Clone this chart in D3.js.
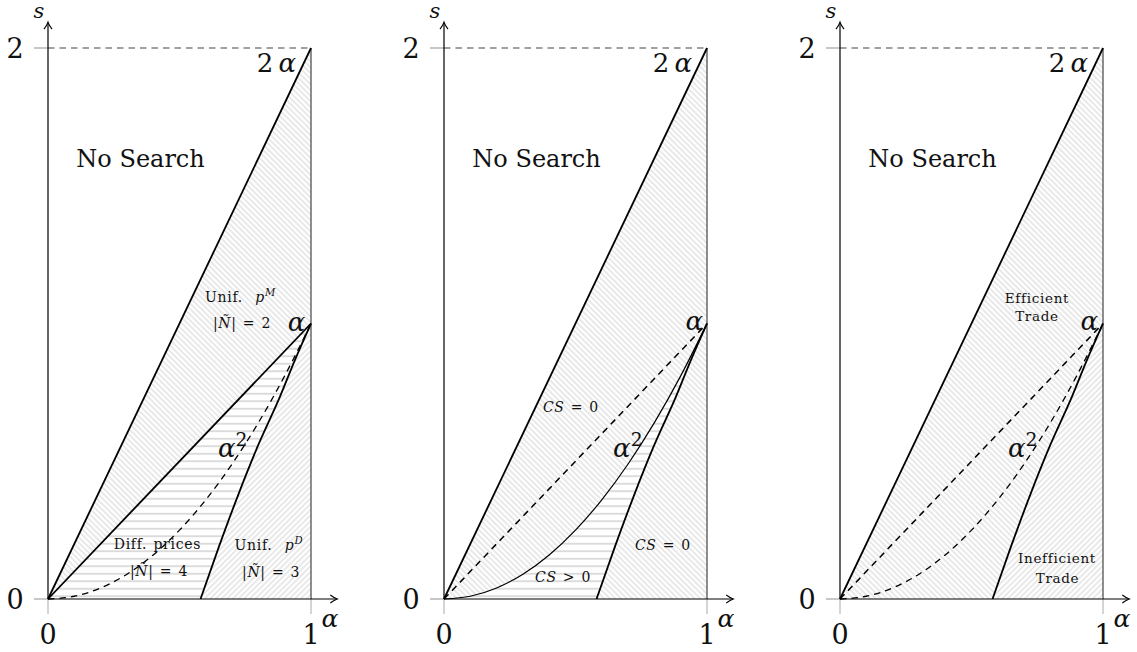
<!DOCTYPE html>
<html>
<head>
<meta charset="utf-8">
<script src="https://cdn.jsdelivr.net/npm/d3@7"></script>
<style>
  body { margin: 0; background: #fff; }
  text { font-family: "DejaVu Serif", serif; fill: #111; }
</style>
</head>
<body>
<div id="chart"></div>
<script>
// values (alpha, s)
var alphaTicks = [0, 1];
var sTicks = [0, 2];
var lineTwoAlpha = [[0, 0], [1, 2]];
var lineAlpha = [[0, 0], [1, 1]];
var curveAlphaSq = [[0, 0], [0.1, 0.01], [0.2, 0.04], [0.3, 0.09], [0.4, 0.16], [0.5, 0.25],
  [0.6, 0.36], [0.7, 0.49], [0.8, 0.64], [0.9, 0.81], [1, 1]];
var curveLower = [[0.58, 0], [0.65, 0.19], [0.72, 0.37], [0.80, 0.56], [0.88, 0.73], [0.94, 0.87], [1, 1]];

var width = 1137, height = 652;
var panelOffsets = [48, 444, 840];

var svg = d3.select("#chart").append("svg")
  .attr("width", width)
  .attr("height", height);

var x = d3.scaleLinear().domain([0, 1]).range([0, 263]);
var y = d3.scaleLinear().domain([0, 2]).range([599, 48]);

var defs = svg.append("defs");
function hatch(id, angle, size, color) {
  var p = defs.append("pattern")
    .attr("id", id)
    .attr("patternUnits", "userSpaceOnUse")
    .attr("width", 10)
    .attr("height", size)
    .attr("patternTransform", "rotate(" + angle + ")");
  p.append("line")
    .attr("x1", 0).attr("x2", 10)
    .attr("y1", size / 2).attr("y2", size / 2)
    .attr("stroke", color)
    .attr("stroke-width", 0.8);
}
hatch("nw", 45, 4, "#c6c6c6");
hatch("ne", -45, 4, "#c6c6c6");
hatch("hz", 0, 7.5, "#a6a6a6");

var curveLine = d3.line()
  .x(function (d) { return x(d[0]) })
  .y(function (d) { return y(d[1]) })
  .curve(d3.curveMonotoneX);

function rev(a) { return a.slice().reverse() }

function region(pieces) {
  var s = "";
  pieces.forEach(function (p, i) {
    var seg;
    if (p.length === 1) {
      seg = "M" + x(p[0][0]) + "," + y(p[0][1]);
    } else {
      seg = curveLine(p);
    }
    s += i ? seg.replace(/^M/, "L") : seg;
  });
  return s + "Z";
}

var panels = [
  {
    regions: [
      { fill: "nw", pieces: [lineTwoAlpha, [[1, 1]], rev(lineAlpha)] },
      { fill: "hz", pieces: [lineAlpha, rev(curveLower)] },
      { fill: "ne", pieces: [curveLower, [[1, 0]]] }
    ],
    lines: [
      { pts: lineTwoAlpha, w: 1.8 },
      { pts: lineAlpha, w: 1.8 },
      { pts: curveLower, w: 1.8 },
      { pts: curveAlphaSq, w: 1.3, dash: "6.5,5" }
    ],
    labels: [
      { a: 0.943, s: 1.913, anchor: "end", size: 26, parts: [["2\u2009", "r"], ["α", "i"]] },
      { a: 0.352, s: 1.568, anchor: "middle", size: 24, parts: [["No Search", "r"]] },
      { a: 0.978, s: 0.973, anchor: "end", size: 26, parts: [["α", "i"]] },
      { a: 0.646, s: 0.515, anchor: "start", size: 26, parts: [["α", "i"], ["2", "sup"]] },
      { a: 0.597, s: 1.078, anchor: "start", size: 14, small: true, parts: [["Unif.  ", "r"], ["p", "i"], ["M", "supi"]] },
      { a: 0.627, s: 0.984, anchor: "start", size: 14, small: true, parts: [["|", "r"], ["Ñ", "i"], ["| = 2", "r"]] },
      { a: 0.416, s: 0.181, anchor: "middle", size: 14, small: true, parts: [["Diff. prices", "r"]] },
      { a: 0.422, s: 0.083, anchor: "middle", size: 14, small: true, parts: [["|", "r"], ["Ñ", "i"], ["| = 4", "r"]] },
      { a: 0.84, s: 0.178, anchor: "middle", size: 14, small: true, parts: [["Unif.  ", "r"], ["p", "i"], ["D", "supi"]] },
      { a: 0.848, s: 0.08, anchor: "middle", size: 14, small: true, parts: [["|", "r"], ["Ñ", "i"], ["| = 3", "r"]] }
    ]
  },
  {
    regions: [
      { fill: "nw", pieces: [lineTwoAlpha, rev(curveAlphaSq)] },
      { fill: "hz", pieces: [curveAlphaSq, rev(curveLower)] },
      { fill: "nw", pieces: [curveLower, [[1, 0]]] }
    ],
    lines: [
      { pts: lineTwoAlpha, w: 1.8 },
      { pts: lineAlpha, w: 1.5, dash: "6.5,5" },
      { pts: curveAlphaSq, w: 1.2 },
      { pts: curveLower, w: 1.8 }
    ],
    labels: [
      { a: 0.943, s: 1.913, anchor: "end", size: 26, parts: [["2\u2009", "r"], ["α", "i"]] },
      { a: 0.352, s: 1.568, anchor: "middle", size: 24, parts: [["No Search", "r"]] },
      { a: 0.985, s: 0.976, anchor: "end", size: 26, parts: [["α", "i"]] },
      { a: 0.643, s: 0.515, anchor: "start", size: 26, parts: [["α", "i"], ["2", "sup"]] },
      { a: 0.376, s: 0.679, anchor: "start", size: 14, small: true, parts: [["CS", "i"], [" = 0", "r"]] },
      { a: 0.726, s: 0.178, anchor: "start", size: 14, small: true, parts: [["CS", "i"], [" = 0", "r"]] },
      { a: 0.346, s: 0.062, anchor: "start", size: 14, small: true, parts: [["CS", "i"], [" > 0", "r"]] }
    ]
  },
  {
    regions: [
      { fill: "nw", pieces: [lineTwoAlpha, rev(curveLower)] },
      { fill: "ne", pieces: [curveLower, [[1, 0]]] }
    ],
    lines: [
      { pts: lineTwoAlpha, w: 1.8 },
      { pts: lineAlpha, w: 1.5, dash: "6.5,5" },
      { pts: curveAlphaSq, w: 1.3, dash: "6.5,5" },
      { pts: curveLower, w: 1.8 }
    ],
    labels: [
      { a: 0.943, s: 1.913, anchor: "end", size: 26, parts: [["2\u2009", "r"], ["α", "i"]] },
      { a: 0.352, s: 1.568, anchor: "middle", size: 24, parts: [["No Search", "r"]] },
      { a: 0.981, s: 0.976, anchor: "end", size: 26, parts: [["α", "i"]] },
      { a: 0.639, s: 0.515, anchor: "start", size: 26, parts: [["α", "i"], ["2", "sup"]] },
      { a: 0.749, s: 1.074, anchor: "middle", size: 13.5, small: true, parts: [["Efficient", "r"]] },
      { a: 0.749, s: 1.009, anchor: "middle", size: 13.5, small: true, parts: [["Trade", "r"]] },
      { a: 0.825, s: 0.131, anchor: "middle", size: 13.5, small: true, parts: [["Inefficient", "r"]] },
      { a: 0.827, s: 0.058, anchor: "middle", size: 13.5, small: true, parts: [["Trade", "r"]] }
    ]
  }
];

function addLabel(g, l) {
  var t = g.append("text")
    .attr("x", x(l.a))
    .attr("y", y(l.s))
    .attr("text-anchor", l.anchor)
    .style("font-size", l.size + "px")
    .style("letter-spacing", l.small ? "0.7px" : null)
    .style("word-spacing", l.small ? "1px" : null)
    .style("white-space", "pre");
  var raised = false;
  l.parts.forEach(function (p) {
    var ts = t.append("tspan").text(p[0]);
    if (p[1] === "i" || p[1] === "supi") ts.style("font-style", "italic");
    if (p[1] === "sup" || p[1] === "supi") {
      ts.attr("dy", -l.size * 0.42).style("font-size", (l.size * 0.72) + "px");
      raised = true;
    } else if (raised) {
      ts.attr("dy", l.size * 0.42);
      raised = false;
    }
  });
}

function arrowHead(g, px, py, dir) {
  // dir: "right" or "up"
  var d = dir === "right"
    ? "M" + (px - 7) + "," + (py - 4) + "Q" + (px - 3) + "," + (py - 1) + " " + px + "," + py +
      "Q" + (px - 3) + "," + (py + 1) + " " + (px - 7) + "," + (py + 4)
    : "M" + (px - 4) + "," + (py + 7) + "Q" + (px - 1) + "," + (py + 3) + " " + px + "," + py +
      "Q" + (px + 1) + "," + (py + 3) + " " + (px + 4) + "," + (py + 7);
  g.append("path").attr("d", d).attr("fill", "none").attr("stroke", "#000").attr("stroke-width", 1.1);
}

panels.forEach(function (panel, i) {
  var g = svg.append("g").attr("transform", "translate(" + panelOffsets[i] + ",0)");

  g.selectAll("path.region")
    .data(panel.regions)
    .enter()
    .append("path")
    .attr("class", "region")
    .attr("d", function (d) { return region(d.pieces) })
    .attr("fill", function (d) { return "url(#" + d.fill + ")" })
    .attr("stroke", "none");

  // boundary at alpha = 1
  g.append("line")
    .attr("x1", x(1)).attr("x2", x(1))
    .attr("y1", y(0)).attr("y2", y(2))
    .attr("stroke", "#333")
    .attr("stroke-width", 1.1);

  // dashed guide at s = 2
  g.append("line")
    .attr("x1", x(0)).attr("x2", x(1))
    .attr("y1", y(2)).attr("y2", y(2))
    .attr("stroke", "#444")
    .attr("stroke-width", 1.2)
    .attr("stroke-dasharray", "6.5,5");

  // ticks
  g.selectAll("line.xtick")
    .data(alphaTicks)
    .enter()
    .append("line")
    .attr("x1", function (d) { return x(d) })
    .attr("x2", function (d) { return x(d) })
    .attr("y1", y(0)).attr("y2", y(0) + 15)
    .attr("stroke", "#aaa")
    .attr("stroke-width", 1);
  g.selectAll("line.ytick")
    .data(sTicks)
    .enter()
    .append("line")
    .attr("x1", -14).attr("x2", 0)
    .attr("y1", function (d) { return y(d) })
    .attr("y2", function (d) { return y(d) })
    .attr("stroke", "#999")
    .attr("stroke-width", 1.1);

  // axes
  g.append("line")
    .attr("x1", x(0)).attr("x2", x(1.098))
    .attr("y1", y(0)).attr("y2", y(0))
    .attr("stroke", "#000").attr("stroke-width", 1.2);
  arrowHead(g, x(1.1), y(0), "right");
  g.append("line")
    .attr("x1", x(0)).attr("x2", x(0))
    .attr("y1", y(0)).attr("y2", y(2.092))
    .attr("stroke", "#000").attr("stroke-width", 1.2);
  arrowHead(g, x(0), y(2.094), "up");

  // curves
  g.selectAll("path.curve")
    .data(panel.lines)
    .enter()
    .append("path")
    .attr("class", "curve")
    .attr("d", function (d) { return curveLine(d.pts) })
    .attr("fill", "none")
    .attr("stroke", "#000")
    .attr("stroke-width", function (d) { return d.w })
    .attr("stroke-dasharray", function (d) { return d.dash || null });

  // tick labels
  g.selectAll("text.xlab")
    .data(alphaTicks)
    .enter()
    .append("text")
    .attr("x", function (d) { return x(d) })
    .attr("y", y(0) + 45)
    .attr("text-anchor", "middle")
    .style("font-size", "27px")
    .text(function (d) { return d });
  g.selectAll("text.ylab")
    .data(sTicks)
    .enter()
    .append("text")
    .attr("x", -33)
    .attr("y", function (d) { return y(d) + 10 })
    .attr("text-anchor", "middle")
    .style("font-size", "27px")
    .text(function (d) { return d });

  // axis titles
  g.append("text")
    .attr("x", -9).attr("y", 18)
    .attr("text-anchor", "middle")
    .style("font-size", "21px")
    .style("font-style", "italic")
    .text("s");
  g.append("text")
    .attr("x", x(1.04)).attr("y", y(0) + 28)
    .attr("text-anchor", "start")
    .style("font-size", "25px")
    .style("font-style", "italic")
    .text("α");

  panel.labels.forEach(function (l) { addLabel(g, l) });
});
</script>
</body>
</html>
